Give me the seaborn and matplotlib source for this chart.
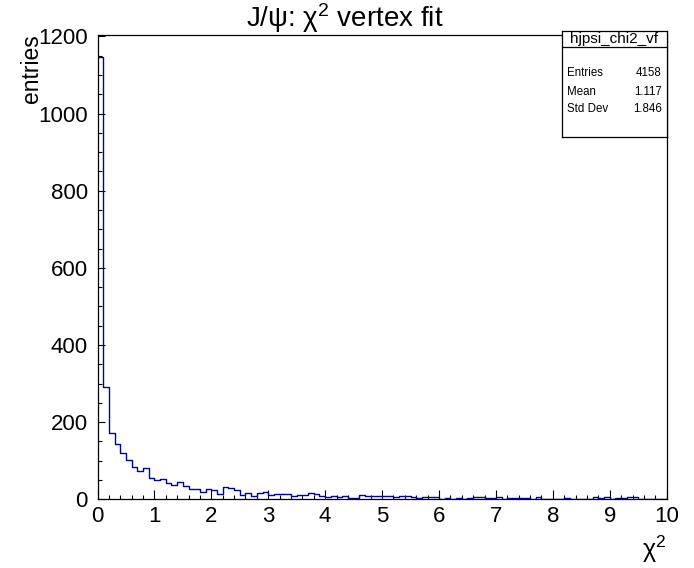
import numpy as np
import pandas as pd
import seaborn as sns
import matplotlib.pyplot as plt
from matplotlib.ticker import MultipleLocator

# bin contents of hjpsi_chi2_vf, 100 bins of width 0.1 from 0 to 10
counts = [1147, 291, 171, 143, 120, 101, 83, 73, 80, 55,
          50, 52, 42, 37, 45, 34, 27, 27, 19, 27,
          24, 14, 31, 29, 24, 11, 16, 9, 16, 19,
          11, 14, 14, 14, 9, 12, 12, 17, 14, 9,
          7, 9, 7, 9, 4, 4, 12, 9, 9, 9,
          9, 9, 7, 9, 9, 7, 4, 7, 7, 7,
          0, 4, 0, 4, 0, 4, 7, 7, 4, 4,
          7, 0, 4, 4, 4, 4, 0, 7, 0, 0,
          0, 0, 4, 0, 0, 0, 0, 7, 4, 7,
          0, 4, 4, 7, 7, 0, 0, 0, 0, 0]
x_min, x_max = 0, 10
hist_name = 'hjpsi_chi2_vf'
stat_names = ['Entries', 'Mean', 'Std Dev']
stat_values = ['4158', '1.117', '1.846']

bw = (x_max - x_min) / len(counts)
centers = x_min + bw * (np.arange(len(counts)) + 0.5)
df = pd.DataFrame({'chi2': centers, 'n': counts})

sns.set_style('white')
plt.rcParams['font.family'] = ['Liberation Sans', 'DejaVu Sans']
plt.rcParams['mathtext.fontset'] = 'custom'
plt.rcParams['mathtext.rm'] = 'Liberation Sans'
plt.rcParams['mathtext.it'] = 'Liberation Sans:italic'
plt.rcParams['mathtext.default'] = 'regular'
for key in ['text.color', 'axes.labelcolor', 'xtick.color', 'ytick.color',
            'axes.edgecolor']:
    plt.rcParams[key] = 'black'

fig = plt.figure(figsize=(6.94, 5.68), dpi=100, facecolor='white')
ax = fig.add_axes([97.5 / 694, 1 - 499.3 / 568, 569.2 / 694, 464.6 / 568])

sns.histplot(data=df, x='chi2', weights='n', binwidth=bw, binrange=(x_min, x_max),
             element='step', fill=False, color='#0000aa', linewidth=1.0, ax=ax)

ax.set_xlim(x_min, x_max)
ax.set_ylim(0, max(counts) * 1.05)
ax.set_xlabel('')
ax.set_ylabel('')

for s in ax.spines.values():
    s.set_linewidth(0.9)
    s.set_color('black')

ax.xaxis.set_major_locator(MultipleLocator(1))
ax.xaxis.set_minor_locator(MultipleLocator(0.2))
ax.yaxis.set_major_locator(MultipleLocator(200))
ax.yaxis.set_minor_locator(MultipleLocator(50))
ax.tick_params(axis='x', which='major', direction='in', length=6.5, width=0.8,
               labelsize=16, pad=5, bottom=True, top=False)
ax.tick_params(axis='x', which='minor', direction='in', length=3.2, width=0.8,
               bottom=True, top=False)
ax.tick_params(axis='y', which='major', direction='in', length=5.3, width=0.8,
               labelsize=16, pad=7, left=True, right=False)
ax.tick_params(axis='y', which='minor', direction='in', length=3.0, width=0.8,
               left=True, right=False)

fig.text(0.497, 1 - 27 / 568, r'J/ψ: χ$^{2}$ vertex fit', ha='center', va='baseline',
         fontsize=20)
fig.text(32 / 694, 1 - 34 / 568, 'entries', rotation=90, ha='center', va='top',
         fontsize=16.5)
fig.text(666 / 694, 1 - 558 / 568, r'χ$^{2}$', ha='right', va='baseline',
         fontsize=18)

# stats box
sb = fig.add_axes([562 / 694, 1 - 137 / 568, 105 / 694, 106 / 568])
sb.set_xticks([])
sb.set_yticks([])
sb.set_xlim(0, 1)
sb.set_ylim(0, 1)
sb.set_facecolor('white')
for s in sb.spines.values():
    s.set_linewidth(0.9)
    s.set_color('black')
sb.axhline(0.852, color='black', linewidth=0.9)
sb.text(0.5, 0.924, hist_name, ha='center', va='center', fontsize=11)
for name, val, yy in zip(stat_names, stat_values, [0.601, 0.428, 0.264]):
    sb.text(0.05, yy, name, ha='left', va='center', fontsize=8.3)
    sb.text(0.95, yy, val, ha='right', va='center', fontsize=8.3)

fig.savefig('out.png', dpi=100, facecolor='white')
